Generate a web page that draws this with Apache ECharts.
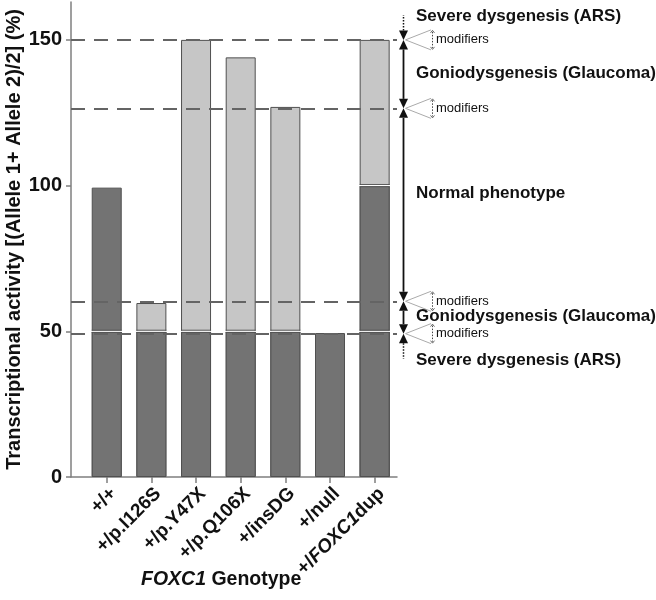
<!DOCTYPE html>
<html><head><meta charset="utf-8">
<script src="https://cdn.jsdelivr.net/npm/echarts@6/dist/echarts.min.js"></script>
<style>html,body{margin:0;padding:0;background:#fff}#c{width:656px;height:600px}</style>
</head><body><div id="c"></div>
<script>
// ---- data ----
const genotypes = ['+/+', '+/p.I126S', '+/p.Y47X', '+/p.Q106X', '+/insDG', '+/null', '+/FOXC1dup'];
const allele1Dark = [50, 50, 50, 50, 50, 49.4, 50];
const allele2Dark = [49.3, null, null, null, null, null, 50];
const allele2Light = [null, 9.7, 100, 94, 77, null, 50];
const thresholds = [150, 126.5, 60.3, 49.2];
const yTicks = [0, 50, 100, 150];
const regionLabels = ['Severe dysgenesis (ARS)', 'Goniodysgenesis (Glaucoma)', 'Normal phenotype', 'Goniodysgenesis (Glaucoma)', 'Severe dysgenesis (ARS)'];
const regionLabelValues = [158, 138.4, 97.3, 55.1, 40.0];
const modifierText = 'modifiers';

// ---- style ----
const FONT = '"Liberation Sans", Arial, sans-serif';
const DARK = '#737373', LIGHT = '#c6c6c6', BORDER = '#505050', AXIS = '#7f7f7f', INK = '#111';
const BAR_W = 30;

const xIdx = genotypes.map((_, i) => i);
// cumulative tops (segments drawn as overlapping bars from the axis)
const topDark2 = genotypes.map((_, i) => allele2Dark[i] == null ? '-' : allele1Dark[i] + allele2Dark[i]);
const topLight = genotypes.map((_, i) => allele2Light[i] == null ? '-' : allele1Dark[i] + (allele2Dark[i] || 0) + allele2Light[i]);
const toXY = arr => arr.map((v, i) => [i, v == null ? '-' : v]);

const separators = [];
genotypes.forEach((_, i) => {
  if (allele2Dark[i] != null || allele2Light[i] != null) separators.push([i, allele1Dark[i]]);
  if (allele2Dark[i] != null && allele2Light[i] != null) separators.push([i, allele1Dark[i] + allele2Dark[i]]);
});

const barStyle = c => ({ color: c, borderColor: BORDER, borderWidth: 1 });

const chart = echarts.init(document.getElementById('c'), null, { renderer: 'canvas' });
const option = {
  animation: false,
  textStyle: { fontFamily: FONT },
  grid: { left: 71, right: 259, top: 2, bottom: 123 },
  title: {
    text: '{it|FOXC1} Genotype', left: 136, top: 565,
    textStyle: { fontFamily: FONT, fontSize: 19.5, fontWeight: 'bold', color: INK,
      rich: { it: { fontFamily: FONT, fontSize: 19.5, fontWeight: 'bold', fontStyle: 'italic', color: INK } } }
  },
  xAxis: {
    type: 'value', min: -0.8, max: 6.5, splitLine: { show: false },
    axisLine: { show: true, onZero: false, lineStyle: { color: AXIS, width: 1.5 } },
    axisTick: { show: true, customValues: xIdx, length: 6, lineStyle: { color: AXIS, width: 1.5 } },
    axisLabel: {
      customValues: xIdx, rotate: 45, margin: 7, verticalAlign: 'top', fontSize: 19, fontWeight: 'bold', color: INK, fontFamily: FONT,
      formatter: v => { const s = genotypes[Math.round(v)] || ''; return s.replace('FOXC1', '{it|FOXC1}'); },
      rich: { it: { fontSize: 19, fontWeight: 'bold', fontStyle: 'italic', color: INK, fontFamily: FONT } }
    }
  },
  yAxis: {
    type: 'value', min: 0, max: 163, splitLine: { show: false },
    axisLine: { show: true, onZero: false, lineStyle: { color: AXIS, width: 1.5 } },
    axisTick: { show: true, customValues: yTicks, length: 5, lineStyle: { color: AXIS, width: 1.5 } },
    axisLabel: { customValues: yTicks, margin: 9, fontSize: 20, fontWeight: 'bold', color: INK, fontFamily: FONT },
    name: 'Transcriptional activity [(Allele 1+ Allele 2)/2] (%)', nameLocation: 'middle', nameGap: 46,
    nameTextStyle: { fontSize: 20, fontWeight: 'bold', color: INK, fontFamily: FONT }
  },
  series: [
    { type: 'bar', barWidth: BAR_W, barGap: '-100%', data: toXY(topLight), itemStyle: barStyle(LIGHT) },
    { type: 'bar', barWidth: BAR_W, barGap: '-100%', data: toXY(topDark2), itemStyle: barStyle(DARK) },
    { type: 'bar', barWidth: BAR_W, barGap: '-100%', data: toXY(allele1Dark), itemStyle: barStyle(DARK) },
    {
      type: 'custom', data: separators, z: 3,
      renderItem: (params, api) => {
        const p = api.coord([api.value(0), api.value(1)]);
        const h = BAR_W / 2;
        return { type: 'group', children: [
          { type: 'rect', shape: { x: p[0] - h - 1, y: p[1] - 0.6, width: BAR_W + 2, height: 1.2 }, style: { fill: '#fff' } },
          { type: 'line', shape: { x1: p[0] - h, y1: p[1] - 1.1, x2: p[0] + h, y2: p[1] - 1.1 }, style: { stroke: BORDER, lineWidth: 0.9 } },
          { type: 'line', shape: { x1: p[0] - h, y1: p[1] + 1.1, x2: p[0] + h, y2: p[1] + 1.1 }, style: { stroke: BORDER, lineWidth: 0.9 } }
        ] };
      }
    },
    {
      type: 'line', data: [], z: 5,
      markLine: {
        silent: true, symbol: 'none', label: { show: false },
        lineStyle: { color: '#646464', width: 2, type: [14, 9] },
        data: thresholds.map(v => ({ yAxis: v }))
      }
    }
  ]
};
chart.setOption(option);

// ---- annotations (positions from the y scale) ----
const py = v => chart.convertToPixel({ yAxisIndex: 0 }, v);
const AX = 403.5, AH = 9.5, AW = 4.5;
const levels = thresholds.map(py);
const g = [];
const line = (x1, y1, x2, y2, stroke, w, dash) => g.push({ type: 'line', shape: { x1, y1, x2, y2 }, style: { stroke, lineWidth: w, lineDash: dash || null }, z: 10 });
const tri = (pts) => g.push({ type: 'polygon', shape: { points: pts }, style: { fill: INK }, z: 10 });
levels.forEach((y, k) => {
  tri([[AX - AW, y - AH], [AX + AW, y - AH], [AX, y]]);
  tri([[AX - AW, y + AH], [AX + AW, y + AH], [AX, y]]);
  if (k < levels.length - 1) line(AX, y + AH, AX, levels[k + 1] - AH, INK, 1.8);
  g.push({ type: 'polyline', shape: { points: [[431, y - 10], [405.5, y], [431, y + 10]] }, style: { stroke: '#aaa', lineWidth: 1, fill: null }, z: 10 });
  line(432.5, y - 8, 432.5, y + 8, '#444', 1, [1.5, 1.5]);
  g.push({ type: 'polyline', shape: { points: [[430.5, y - 7], [432.5, y - 9.5], [434.5, y - 7]] }, style: { stroke: '#444', lineWidth: 0.8, fill: null }, z: 10 });
  g.push({ type: 'polyline', shape: { points: [[430.5, y + 7], [432.5, y + 9.5], [434.5, y + 7]] }, style: { stroke: '#444', lineWidth: 0.8, fill: null }, z: 10 });
  g.push({ type: 'text', x: 436, y: y, style: { text: modifierText, fontSize: 13, fontFamily: FONT, fill: INK, verticalAlign: 'middle', align: 'left' }, z: 10 });
});
line(AX, levels[0] - AH, AX, levels[0] - 25, INK, 1.5, [1.5, 1.5]);
line(AX, levels[3] + AH, AX, levels[3] + 25, INK, 1.5, [1.5, 1.5]);
regionLabels.forEach((t, i) => {
  g.push({ type: 'text', x: 416, y: py(regionLabelValues[i]), style: { text: t, fontSize: 17, fontWeight: 'bold', fontFamily: FONT, fill: INK, verticalAlign: 'middle', align: 'left' }, z: 10 });
});
chart.setOption({ graphic: g });
</script>
</body></html>
